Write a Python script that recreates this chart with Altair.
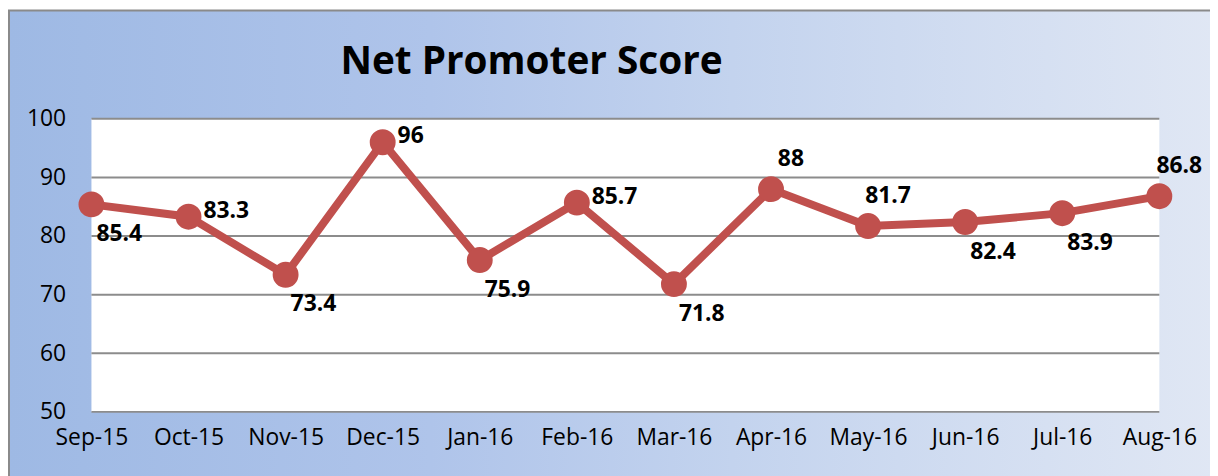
import altair as alt
import pandas as pd

months = ["Sep-15", "Oct-15", "Nov-15", "Dec-15", "Jan-16", "Feb-16",
          "Mar-16", "Apr-16", "May-16", "Jun-16", "Jul-16", "Aug-16"]
scores = [85.4, 83.3, 73.4, 96, 75.9, 85.7, 71.8, 88, 81.7, 82.4, 83.9, 86.8]
labels = ["85.4", "83.3", "73.4", "96", "75.9", "85.7", "71.8", "88", "81.7", "82.4", "83.9", "86.8"]
placement = ["below", "right", "below", "right", "below", "right",
             "below", "above", "above", "below", "below", "above"]
grid_values = [50, 60, 70, 80, 90, 100]
title_text = "Net Promoter Score"

df = pd.DataFrame({"month": months, "score": scores, "label": labels, "place": placement})
grid_df = pd.DataFrame({"score": grid_values})

W, H = 1075, 295
FONT = "Open Sans"
RED = "#C0504D"

x_enc = alt.X("month:N", sort=months, scale=alt.Scale(type="point", padding=0),
              axis=alt.Axis(title=None, labelAngle=0, ticks=False, domain=False, grid=False,
                            labelFont=FONT, labelFontSize=23, labelColor="#000000",
                            labelPadding=15, labelBaseline="top", zindex=1))
y_scale = alt.Scale(domain=[50, 100], nice=False, zero=False)
y_axis = alt.Axis(title=None, values=grid_values, ticks=False, domain=False, grid=False,
                  labelFont=FONT, labelFontSize=23, labelColor="#000000",
                  labelPadding=26, zindex=1)
y_enc = alt.Y("score:Q", scale=y_scale, axis=y_axis)

one = alt.Data(values=[{"t": title_text}])

bg = alt.Chart(one).mark_rect(
    color=alt.Gradient(gradient="linear",
                       stops=[alt.GradientStop(color="#9EB9E4", offset=0),
                              alt.GradientStop(color="#AFC4EA", offset=0.35),
                              alt.GradientStop(color="#C3D3EE", offset=0.6),
                              alt.GradientStop(color="#E0E7F4", offset=1)],
                       x1=0, x2=1, y1=0, y2=0),
    stroke="#8A8A8A", strokeWidth=2
).encode(x=alt.value(-83), x2=alt.value(1130), y=alt.value(-109), y2=alt.value(362))

plot_bg = alt.Chart(one).mark_rect(color="white").encode(
    x=alt.value(0), x2=alt.value("width"), y=alt.value(0), y2=alt.value("height"))

grid = alt.Chart(grid_df).mark_rule(color="#8C8C8C", strokeWidth=2).encode(
    y=y_enc, x=alt.value(0), x2=alt.value("width"))

line = alt.Chart(df).mark_line(color=RED, strokeWidth=8).encode(x=x_enc, y=y_enc)
pts = alt.Chart(df).mark_circle(color=RED, size=680, opacity=1).encode(x=x_enc, y=y_enc)

placements = {"below": ("left", 5, 30), "right": ("left", 15, -6), "above": ("center", 20, -30)}
text_layers = []
for place, (align, dx, dy) in placements.items():
    text_layers.append(
        alt.Chart(df).transform_filter(alt.datum.place == place).mark_text(
            font=FONT, fontSize=23, fontWeight="bold", color="#000000",
            align=align, baseline="middle", dx=dx, dy=dy
        ).encode(x=x_enc, y=y_enc, text="label:N"))

title = alt.Chart(one).mark_text(
    font=FONT, fontSize=39, fontWeight="bold", color="#000000",
    align="center", baseline="alphabetic"
).encode(x=alt.value(443), y=alt.value(-45), text="t:N")

chart = alt.layer(bg, plot_bg, grid, line, pts, *text_layers, title).properties(
    width=W, height=H,
    autosize=alt.AutoSizeParams(type="none"),
    padding={"left": 84, "top": 110, "right": 51, "bottom": 63},
    background="white"
).configure_view(stroke=None)

chart.save("out.html", embed_options={"renderer": "svg", "actions": False})
